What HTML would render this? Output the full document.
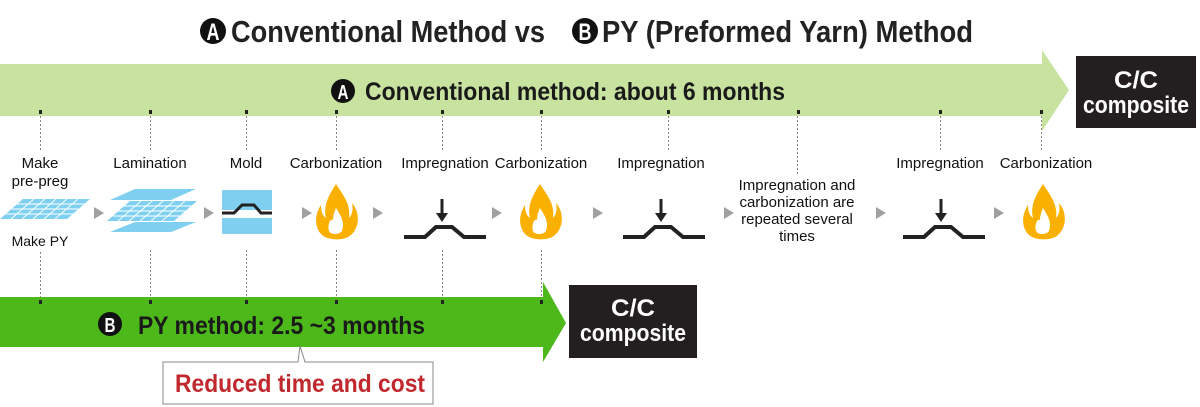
<!DOCTYPE html>
<html><head><meta charset="utf-8"><style>
html,body{margin:0;padding:0;background:#fff;}
svg{display:block;}
.n{font-family:"Liberation Sans Narrow","Liberation Sans",sans-serif;}
</style></head><body>
<svg width="1200" height="407" viewBox="0 0 1200 407" xmlns="http://www.w3.org/2000/svg">
<defs>
<g id="flame">
<path d="M0,-28 C7,-17 15,-8 13,6 C17,2 17,-4 16,-9 C24,0 24,15 15,23 C9,29 -9,29 -15,22 C-22,14 -21,2 -15,-7 C-15,0 -13,4 -10,6 C-13,-7 -7,-17 0,-28 Z" fill="#f9b000"/>
<path d="M0,-4 C5,4 9,10 6,19 C3,23 -5,23 -7,19 C-9,12 -5,6 -3,8 C-3,4 -2,1 0,-4 Z" fill="#fff"/>
</g>
<g id="impreg">
<line x1="0" y1="-38" x2="0" y2="-22" stroke="#222" stroke-width="3"/>
<polygon points="-6,-24 6,-24 0,-15" fill="#222"/>
<polyline points="-38,0 -17,0 -6,-10 10,-10 22,0 44,0" fill="none" stroke="#222" stroke-width="4"/>
</g>
<polygon id="tri" points="0,-6 10,0 0,6" fill="#a0a0a0"/>
<g id="grid">
<polygon points="-45,11 -22,-9 45,-9 22,11" fill="#7fd0f0"/>
<g stroke="#fff" stroke-width="0.9">
<line x1="-39" y1="6" x2="28" y2="6"/><line x1="-33.5" y1="1" x2="33.5" y2="1"/><line x1="-28" y1="-4" x2="39" y2="-4"/>
<line x1="-34" y1="11" x2="-11" y2="-9"/><line x1="-23" y1="11" x2="0" y2="-9"/><line x1="-12" y1="11" x2="11" y2="-9"/><line x1="-1" y1="11" x2="22" y2="-9"/><line x1="10" y1="11" x2="33" y2="-9"/>
</g>
</g>
</defs>

<!-- Title -->
<g class="n" font-weight="bold" font-size="31" fill="#222">
<circle cx="213" cy="31" r="13" fill="#111"/><text x="213" y="40" font-size="24" fill="#fff" text-anchor="middle" textLength="13" lengthAdjust="spacingAndGlyphs">A</text>
<text x="231" y="42" textLength="314" lengthAdjust="spacingAndGlyphs">Conventional Method vs</text>
<circle cx="585" cy="31" r="13" fill="#111"/><text x="585" y="40" font-size="24" fill="#fff" text-anchor="middle" textLength="13" lengthAdjust="spacingAndGlyphs">B</text>
<text x="602" y="42" textLength="371" lengthAdjust="spacingAndGlyphs">PY (Preformed Yarn) Method</text>
</g>

<!-- Top arrow -->
<polygon points="0,64 1042,64 1042,50 1069,90 1042,131 1042,116 0,116" fill="#c8e2a0"/>
<rect x="1076" y="56" width="120" height="72" fill="#231f20"/>
<text x="1136" y="88" class="n" font-weight="bold" font-size="24" fill="#fff" text-anchor="middle" textLength="44" lengthAdjust="spacingAndGlyphs">C/C</text>
<text x="1136" y="113" class="n" font-weight="bold" font-size="24" fill="#fff" text-anchor="middle" textLength="106" lengthAdjust="spacingAndGlyphs">composite</text>
<circle cx="343" cy="91" r="12" fill="#111"/><text x="343" y="99" class="n" font-weight="bold" font-size="20" fill="#fff" text-anchor="middle" textLength="11" lengthAdjust="spacingAndGlyphs">A</text>
<text x="365" y="100" class="n" font-weight="bold" font-size="25" fill="#1a1a1a" textLength="420" lengthAdjust="spacingAndGlyphs">Conventional method: about 6 months</text>

<!-- top ticks and dotted lines -->
<g fill="#222">
<rect x="39" y="110" width="3" height="4"/><rect x="149" y="110" width="3" height="4"/><rect x="245" y="110" width="3" height="4"/><rect x="335" y="110" width="3" height="4"/><rect x="441" y="110" width="3" height="4"/><rect x="540" y="110" width="3" height="4"/><rect x="667" y="110" width="3" height="4"/><rect x="797" y="110" width="3" height="4"/><rect x="939" y="110" width="3" height="4"/><rect x="1040" y="110" width="3" height="4"/>
</g>
<g stroke="#888" stroke-width="1" stroke-dasharray="2,2">
<line x1="40.5" y1="116" x2="40.5" y2="150"/><line x1="150.5" y1="116" x2="150.5" y2="150"/><line x1="246.5" y1="116" x2="246.5" y2="150"/><line x1="336.5" y1="116" x2="336.5" y2="150"/><line x1="442.5" y1="116" x2="442.5" y2="150"/><line x1="541.5" y1="116" x2="541.5" y2="150"/><line x1="668.5" y1="116" x2="668.5" y2="150"/><line x1="797.5" y1="116" x2="797.5" y2="176"/><line x1="940.5" y1="116" x2="940.5" y2="150"/><line x1="1041.5" y1="116" x2="1041.5" y2="150"/>
<line x1="40.5" y1="252" x2="40.5" y2="300"/><line x1="150.5" y1="250" x2="150.5" y2="300"/><line x1="246.5" y1="250" x2="246.5" y2="300"/><line x1="336.5" y1="250" x2="336.5" y2="300"/><line x1="442.5" y1="250" x2="442.5" y2="300"/><line x1="541.5" y1="250" x2="541.5" y2="300"/>
</g>

<!-- labels -->
<g class="n" font-size="15" fill="#111" text-anchor="middle">
<text x="40" y="168">Make</text><text x="40" y="186">pre-preg</text>
<text x="40" y="246" font-size="14">Make PY</text>
<text x="150" y="168">Lamination</text>
<text x="246" y="168">Mold</text>
<text x="336" y="168">Carbonization</text>
<text x="445" y="168">Impregnation</text>
<text x="541" y="168">Carbonization</text>
<text x="661" y="168">Impregnation</text>
<text x="797" y="190">Impregnation and</text>
<text x="797" y="207">carbonization are</text>
<text x="797" y="224">repeated several</text>
<text x="797" y="241">times</text>
<text x="940" y="168">Impregnation</text>
<text x="1046" y="168">Carbonization</text>
</g>

<!-- icons -->
<use href="#grid" x="45" y="208"/>
<polygon points="110,200 135,189 196,189 171,200" fill="#7fd0f0"/>
<use href="#grid" x="152" y="210" transform="translate(0,0)"/>
<polygon points="110,232 135,222 196,222 171,232" fill="#7fd0f0"/>
<g>
<rect x="222" y="190" width="50" height="15" fill="#7fd0f0"/>
<polygon points="222,205 231,205 238,198 257,198 263,205 272,205 272,210 222,210" fill="#7fd0f0"/>
<rect x="222" y="218" width="50" height="16" fill="#7fd0f0"/>
<polygon points="222,218 233,218 238,214 256,214 262,218 272,218 272,214 222,214" fill="#fff"/>
<polyline points="222,213 234,213 242,205 254,205 261,213 272,213" fill="none" stroke="#222" stroke-width="3"/>
</g>
<use href="#flame" x="336" y="212"/>
<use href="#flame" x="540" y="212"/>
<use href="#flame" x="1043" y="212"/>
<use href="#impreg" x="442" y="237"/>
<use href="#impreg" x="661" y="237"/>
<use href="#impreg" x="941" y="237"/>
<use href="#tri" x="94" y="213"/><use href="#tri" x="204" y="213"/><use href="#tri" x="302" y="213"/><use href="#tri" x="373" y="213"/><use href="#tri" x="492" y="213"/><use href="#tri" x="593" y="213"/><use href="#tri" x="724" y="213"/><use href="#tri" x="876" y="213"/><use href="#tri" x="994" y="213"/>

<!-- Bottom arrow -->
<polygon points="0,297 543,297 543,282 566,323 543,362 543,347 0,347" fill="#4cb81a"/>
<g fill="#222">
<rect x="39" y="300" width="3" height="4"/><rect x="149" y="300" width="3" height="4"/><rect x="245" y="300" width="3" height="4"/><rect x="335" y="300" width="3" height="4"/><rect x="441" y="300" width="3" height="4"/><rect x="540" y="300" width="3" height="4"/>
</g>
<rect x="569" y="285" width="128" height="73" fill="#231f20"/>
<text x="633" y="316" class="n" font-weight="bold" font-size="24" fill="#fff" text-anchor="middle" textLength="44" lengthAdjust="spacingAndGlyphs">C/C</text>
<text x="633" y="341" class="n" font-weight="bold" font-size="24" fill="#fff" text-anchor="middle" textLength="106" lengthAdjust="spacingAndGlyphs">composite</text>
<circle cx="110" cy="324" r="12" fill="#111"/><text x="110" y="332" class="n" font-weight="bold" font-size="20" fill="#fff" text-anchor="middle" textLength="11" lengthAdjust="spacingAndGlyphs">B</text>
<text x="138" y="334" class="n" font-weight="bold" font-size="25" fill="#1a1a1a" textLength="287" lengthAdjust="spacingAndGlyphs">PY method: 2.5 ~3 months</text>

<!-- callout -->
<path d="M163,362 L298,362 L300,346 L305,362 L433,362 L433,404 L163,404 Z" fill="#fff" stroke="#888" stroke-width="1"/>
<text x="175" y="392" class="n" font-weight="bold" font-size="25" fill="#c0282d" textLength="250" lengthAdjust="spacingAndGlyphs">Reduced time and cost</text>
</svg>
</body></html>
